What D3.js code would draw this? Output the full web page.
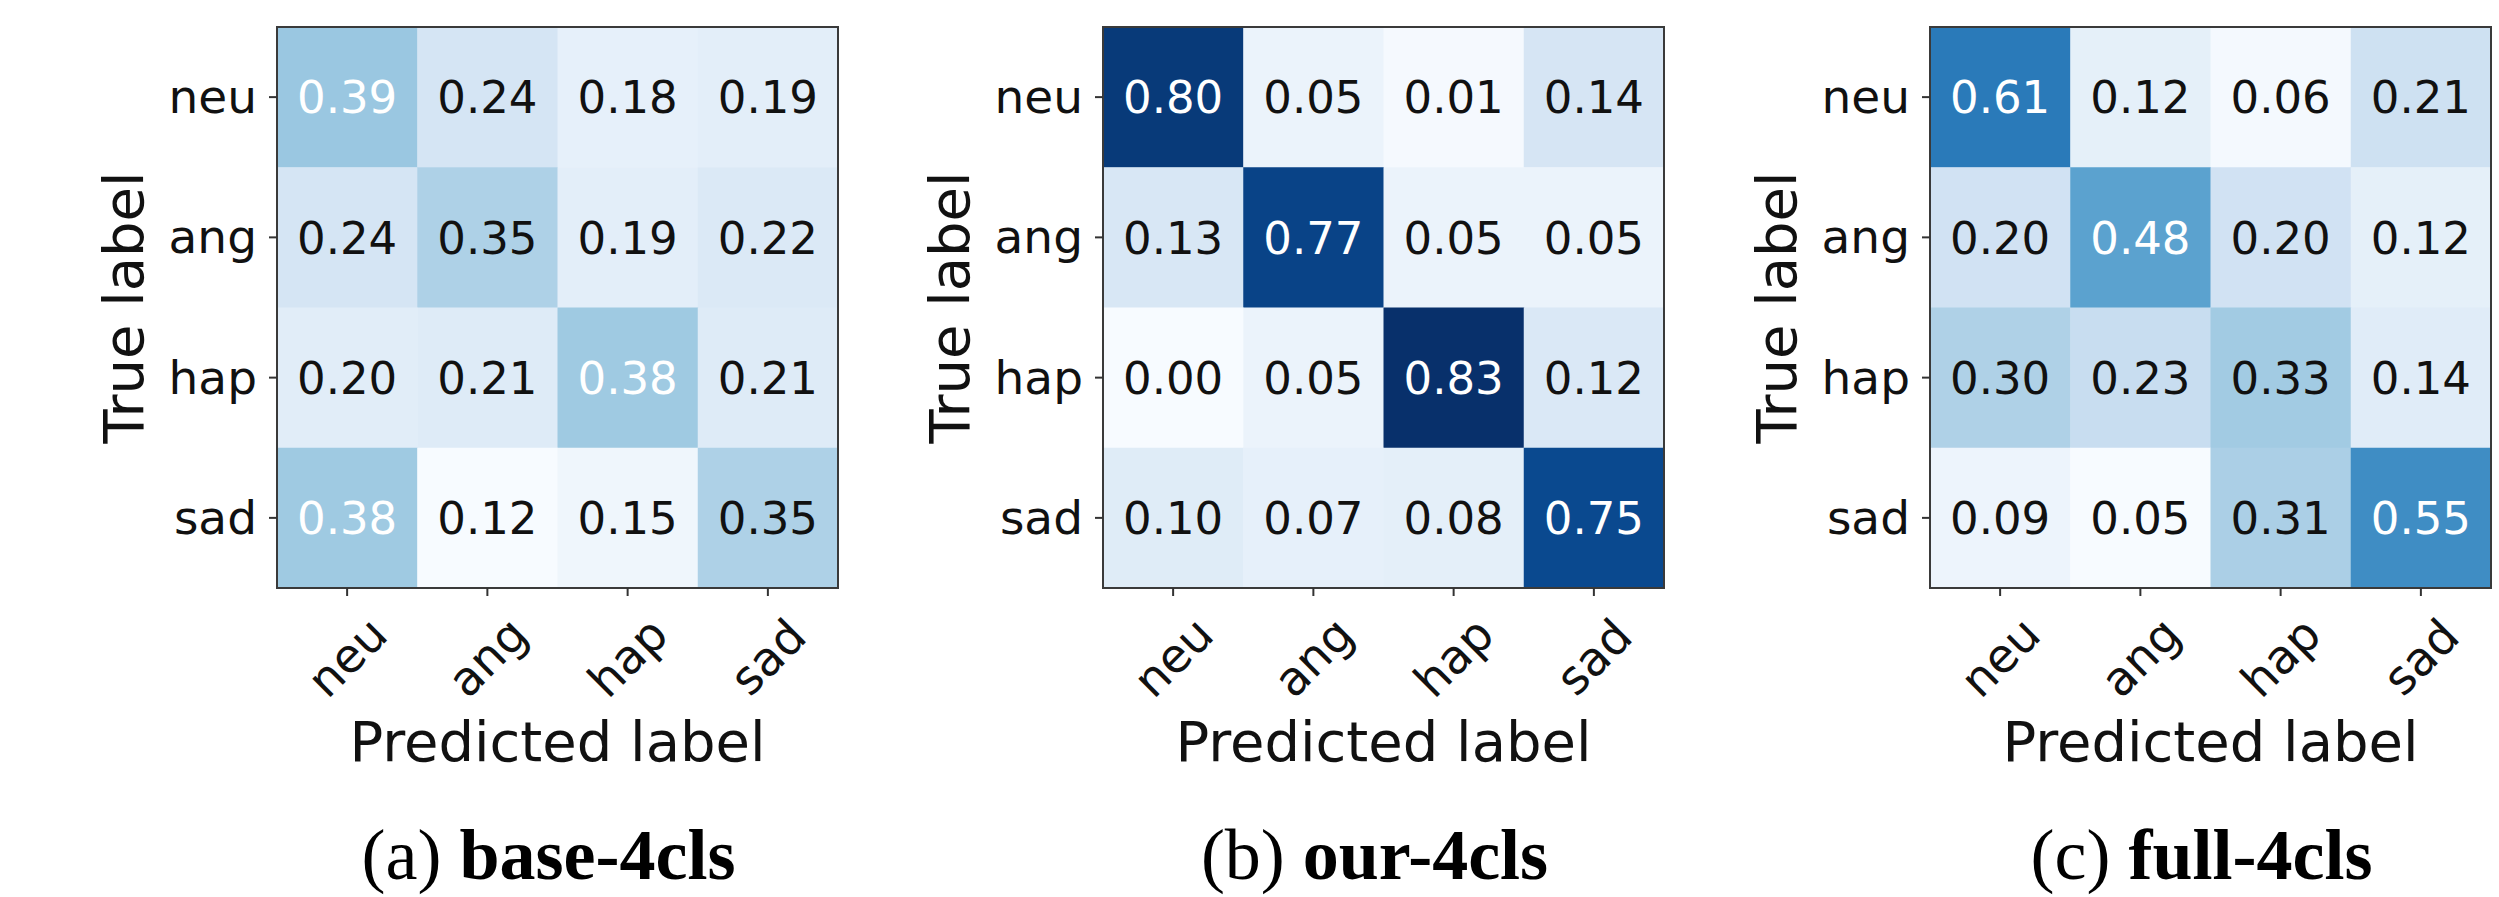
<!DOCTYPE html>
<html>
<head>
<meta charset="utf-8">
<script src="https://cdn.jsdelivr.net/npm/d3@7"></script>
<style>
  html, body { margin: 0; padding: 0; background: #ffffff; }
  svg { display: block; }
</style>
</head>
<body>
<svg id="chart" width="2499" height="897"></svg>
<script>
// ---------------- data ----------------
const categories = ["neu", "ang", "hap", "sad"];
const baseValues = [
  [0.39, 0.24, 0.18, 0.19],
  [0.24, 0.35, 0.19, 0.22],
  [0.20, 0.21, 0.38, 0.21],
  [0.38, 0.12, 0.15, 0.35]
];
const ourValues = [
  [0.80, 0.05, 0.01, 0.14],
  [0.13, 0.77, 0.05, 0.05],
  [0.00, 0.05, 0.83, 0.12],
  [0.10, 0.07, 0.08, 0.75]
];
const fullValues = [
  [0.61, 0.12, 0.06, 0.21],
  [0.20, 0.48, 0.20, 0.12],
  [0.30, 0.23, 0.33, 0.14],
  [0.09, 0.05, 0.31, 0.55]
];
const captionLetters = ["(a)", "(b)", "(c)"];
const captionNames = ["base-4cls", "our-4cls", "full-4cls"];
const xTitle = "Predicted label";
const yTitle = "True label";

// ---------------- layout ----------------
const panels = [baseValues, ourValues, fullValues];
const panelLefts = [277, 1103, 1930];
const panelTop = 27;
const size = 561;
const globalMax = d3.max(panels.flat(2));
const whiteThreshold = 0.36;
const fmt = d3.format(".2f");
const font = "'DejaVu Sans', sans-serif";

const svg = d3.select("#chart");

panels.forEach((values, p) => {
  const g = svg.append("g").attr("transform", `translate(${panelLefts[p]},${panelTop})`);
  const x = d3.scaleBand().domain(categories).range([0, size]);
  const y = d3.scaleBand().domain(categories).range([0, size]);
  const panelMin = d3.min(values.flat());
  const color = d3.scaleSequential(d3.interpolateBlues).domain([panelMin, globalMax]);

  const cells = [];
  values.forEach((row, i) => row.forEach((v, j) => cells.push({ t: categories[i], pr: categories[j], v })));

  g.selectAll("rect.cell").data(cells).join("rect")
    .attr("class", "cell")
    .attr("x", d => x(d.pr))
    .attr("y", d => y(d.t))
    .attr("width", x.bandwidth() + 0.5)
    .attr("height", y.bandwidth() + 0.5)
    .attr("fill", d => color(d.v));

  g.selectAll("text.val").data(cells).join("text")
    .attr("class", "val")
    .attr("x", d => x(d.pr) + x.bandwidth() / 2)
    .attr("y", d => y(d.t) + y.bandwidth() / 2)
    .attr("dy", "0.36em")
    .attr("text-anchor", "middle")
    .attr("font-family", font)
    .attr("font-size", 45)
    .attr("fill", d => d.v > whiteThreshold ? "#ffffff" : "#111111")
    .text(d => fmt(d.v));

  // border
  g.append("rect")
    .attr("x", 0).attr("y", 0).attr("width", size).attr("height", size)
    .attr("fill", "none").attr("stroke", "#3a3a3a").attr("stroke-width", 2);

  // y axis
  const ya = g.append("g").call(d3.axisLeft(y).tickSize(8).tickPadding(12).tickSizeOuter(0));
  ya.select(".domain").remove();
  ya.selectAll(".tick line").attr("stroke", "#333").attr("stroke-width", 2);
  ya.selectAll(".tick text")
    .attr("font-family", font).attr("font-size", 47).attr("fill", "#111").attr("dy", "0.34em");

  // x axis
  const xa = g.append("g").attr("transform", `translate(0,${size})`)
    .call(d3.axisBottom(x).tickSize(8).tickPadding(10).tickSizeOuter(0));
  xa.select(".domain").remove();
  xa.selectAll(".tick line").attr("stroke", "#333").attr("stroke-width", 2);
  xa.selectAll(".tick text")
    .attr("font-family", font).attr("font-size", 47).attr("fill", "#111")
    .attr("y", 0).attr("dy", "0.35em")
    .attr("text-anchor", "middle")
    .attr("transform", "translate(0,69) rotate(-45)");

  // axis titles
  g.append("text")
    .attr("x", size / 2).attr("y", 734)
    .attr("text-anchor", "middle")
    .attr("font-family", font).attr("font-size", 56).attr("fill", "#111")
    .text(xTitle);
  g.append("text")
    .attr("transform", `translate(-134,${size / 2}) rotate(-90)`)
    .attr("text-anchor", "middle")
    .attr("font-family", font).attr("font-size", 56).attr("fill", "#111")
    .text(yTitle);

  // caption
  const cap = g.append("text")
    .attr("x", size / 2 - 9).attr("y", 852)
    .attr("text-anchor", "middle")
    .attr("font-family", "'Liberation Serif', 'Times New Roman', serif")
    .attr("font-size", 72).attr("fill", "#000");
  cap.append("tspan").text(captionLetters[p] + " ");
  cap.append("tspan").attr("font-weight", "bold").text(captionNames[p]);
});
</script>
</body>
</html>
